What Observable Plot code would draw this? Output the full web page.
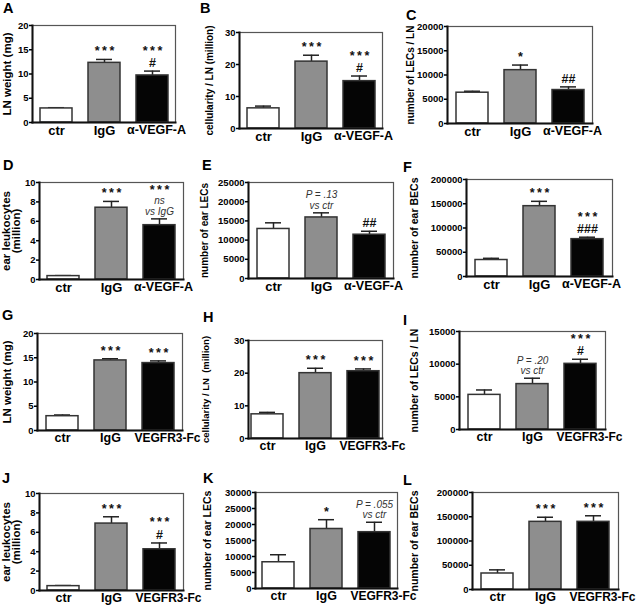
<!DOCTYPE html>
<html><head><meta charset="utf-8">
<script src="https://cdn.jsdelivr.net/npm/d3@7"></script>
<script src="https://cdn.jsdelivr.net/npm/@observablehq/plot@0.6"></script>
<style>
body{margin:0;background:#fff;}
#root{position:relative;width:636px;height:607px;overflow:hidden;font-family:"Liberation Sans",Arial,sans-serif;}
#root svg{position:absolute;overflow:visible;max-width:none;}
.letter{position:absolute;font:bold 14.5px "Liberation Sans",Arial,sans-serif;line-height:1;color:#000;}
</style></head><body><div id="root"></div>
<script>
// ---------- data ----------
const panelLetters = ["A","B","C","D","E","F","G","H","I","J","K","L"];
const groupsTop = ["ctr", "IgG", "α-VEGF-A"];
const groupsBottom = ["ctr", "IgG", "VEGFR3-Fc"];
const yLabels = [
  "LN weight (mg)", "cellularity / LN (million)", "number of LECs / LN",
  "ear leukocytes\n(million)", "number of ear LECs", "number of ear BECs",
  "LN weight (mg)", "cellularity / LN \u00a0(million)", "number of LECs / LN",
  "ear leukocytes\n(million)", "number of ear LECs", "number of ear BECs"
];
const yMax  = [20, 30, 20000, 10, 25000, 200000, 20, 30, 15000, 10, 30000, 200000];
const yStep = [5, 10, 5000, 2, 5000, 50000, 5, 10, 5000, 2, 5000, 50000];
const means = [
  [2.9, 12.3, 9.7],
  [6.3, 20.9, 14.8],
  [6350, 11000, 6900],
  [0.35, 7.4, 5.6],
  [12900, 15900, 11400],
  [34000, 145000, 77000],
  [2.95, 14.45, 13.9],
  [7.4, 20.0, 20.6],
  [5300, 6950, 10050],
  [0.45, 6.9, 4.25],
  [8200, 18600, 17600],
  [33000, 139500, 139500]
];
const errors = [
  [0.15, 0.7, 0.9],
  [0.7, 2.0, 1.6],
  [300, 1050, 650],
  [0.05, 0.65, 0.65],
  [1600, 1200, 900],
  [3500, 10000, 4000],
  [0.25, 0.35, 0.45],
  [0.6, 1.5, 0.7],
  [750, 900, 700],
  [0.06, 0.7, 0.65],
  [2350, 2900, 3100],
  [7500, 9500, 12500]
];
// annotation lines above each bar, listed top to bottom
const annotations = [
  [[], ["***"], ["***", "#"]],
  [[], ["***"], ["***", "#"]],
  [[], ["*"], ["##"]],
  [[], ["***"], ["***", "ns", "vs IgG"]],
  [[], ["P = .13", "vs ctr"], ["##"]],
  [[], ["***"], ["***", "###"]],
  [[], ["***"], ["***"]],
  [[], ["***"], ["***"]],
  [[], ["P = .20", "vs ctr"], ["***", "#"]],
  [[], ["***"], ["***", "#"]],
  [[], ["*"], ["P = .055", "vs ctr"]],
  [[], ["***"], ["***"]]
];

// ---------- layout & style ----------
const barFills = ["#ffffff", "#8e8e8e", "#050505"];
const frames = [ // [left, top, width, height] of each plot frame
  [32, 25, 143, 97], [239, 32, 143, 96], [447, 26, 145, 97],
  [39, 182, 144, 97], [248, 182, 145, 96], [466, 179, 146, 97],
  [37, 333, 145, 97], [248, 340, 134, 98], [459, 331, 146, 98],
  [39, 493, 144, 97], [255, 492, 142, 96], [472, 492, 146, 97]
];
const labelOffsets = [25, 30, 37, 28, 44, 52, 30, 42, 45, 28, 48, 58];
const labelSizes = [11.5, 10, 10, 11.5, 10, 10.5, 11.5, 9.5, 10.5, 11.5, 10.5, 10.5];
const letterPos = [
  [3, 1], [200, 1], [406, 8], [3, 158], [202, 158], [403, 160],
  [2, 308], [203, 310], [403, 313], [2, 471], [203, 471], [403, 473]
];

const root = document.getElementById("root");
const FONT = "'Liberation Sans', Arial, sans-serif";

for (let i = 0; i < 12; i++) {
  const [fl, ft, fw, fh] = frames[i];
  const ML = 72, MR = 14, MT = 40, MB = 26;
  const top = i < 6;
  const groups = top ? groupsTop : groupsBottom;
  const rows = groups.map((g, j) => ({g, m: means[i][j], top: means[i][j] + errors[i][j]}));
  const po = Math.max(0, (fw / 48 - (3 - 1/3)) / 2);
  const annMarks = [];
  groups.forEach((g, j) => {
    const lines = annotations[i][j].slice().reverse(); // bottom line first
    let off = 4;
    for (const t of lines) {
      const sym = /^[*#]+$/.test(t);
      const shown = /^\*+$/.test(t) ? t.split("").join("\u2009") : t;
      const fs = sym ? 12.5 : 10;
      annMarks.push(Plot.text([{g, y: rows[j].top, t: shown}], {
        x: "g", y: "y", text: "t", dy: -off, lineAnchor: "bottom",
        fontSize: fs, fontWeight: sym ? "bold" : "normal",
        fontStyle: sym ? "normal" : "italic", fill: sym ? "#111" : "#333"
      }));
      off += sym ? 12.5 : 10.5;
    }
  });
  const svg = Plot.plot({
    width: ML + fw + MR, height: MT + fh + MB,
    marginLeft: ML, marginRight: MR, marginTop: MT, marginBottom: MB,
    style: {background: "transparent", fontFamily: FONT, overflow: "visible"},
    x: {domain: groups, paddingInner: 1/3, paddingOuter: po, axis: null},
    y: {domain: [0, yMax[i]], axis: null},
    color: {domain: groups, range: barFills},
    marks: [
      Plot.ruleX(rows, {x: "g", y1: "m", y2: "top", stroke: "#222", strokeWidth: 1.5}),
      Plot.tickY(rows, {x: "g", y: "top", stroke: "#222", strokeWidth: 1.5, insetLeft: 8, insetRight: 8}),
      Plot.barY(rows, {x: "g", y: "m", fill: "g", stroke: "#333", strokeWidth: 1.5}),
      Plot.frame({stroke: "#555", strokeWidth: 1.2}),
      Plot.frame({anchor: "left", stroke: "#111", strokeWidth: 2}),
      Plot.frame({anchor: "bottom", stroke: "#111", strokeWidth: 2}),
      Plot.axisY({ticks: d3.range(0, yMax[i] + 1e-9, yStep[i]), tickSize: 3, tickPadding: 1,
        tickFormat: d3.format("d"), fontSize: 9.5, fontWeight: "bold", label: null, strokeWidth: 1.5}),
      Plot.axisX({ticks: groups.slice(0, 2), tickSize: 0, tickPadding: 3,
        fontSize: top ? 13 : 12.5, fontWeight: "bold", label: null}),
      Plot.axisX({ticks: groups.slice(2), tickSize: 0, tickPadding: 3, dx: top ? 4 : 9,
        fontSize: top ? 12.5 : 12, fontWeight: "bold", label: null}),
      Plot.text([yLabels[i]], {frameAnchor: "left", dx: -labelOffsets[i], rotate: -90,
        textAnchor: "middle", lineAnchor: "middle", fontSize: labelSizes[i], fontWeight: "bold", lineHeight: 0.95}),
      ...annMarks
    ]
  });
  svg.style.left = (fl - ML) + "px";
  svg.style.top = (ft - MT) + "px";
  root.appendChild(svg);
  const lt = document.createElement("div");
  lt.className = "letter";
  lt.textContent = panelLetters[i];
  lt.style.left = letterPos[i][0] + "px";
  lt.style.top = letterPos[i][1] + "px";
  root.appendChild(lt);
}
</script>
</body></html>
